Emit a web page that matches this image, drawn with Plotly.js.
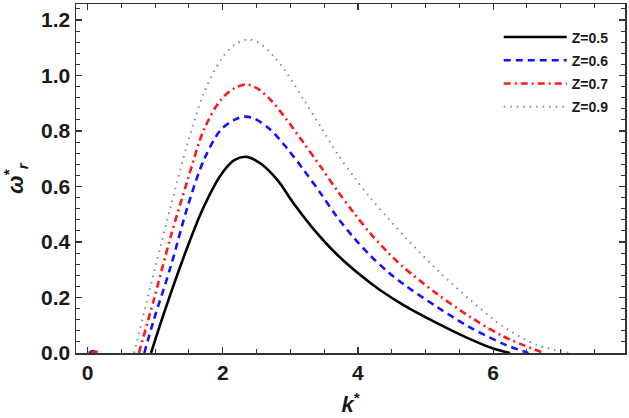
<!DOCTYPE html>
<html>
<head>
<meta charset="utf-8">
<script src="https://cdn.plot.ly/plotly-3.0.1.min.js"></script>
<style>html,body{margin:0;padding:0;background:#fff;}#chart{width:629px;height:418px;}</style>
</head>
<body>
<div id="chart"></div>
<script>
// Z = 0.5
var k05 = [0.94, 1.13, 1.48, 1.72, 1.97, 2.17, 2.35, 2.56, 2.81, 3.05, 3.35, 3.69, 4.04, 4.33, 4.68, 5.17, 5.66, 6.0, 6.25];
var w05 = [0, 0.143, 0.383, 0.527, 0.641, 0.695, 0.707, 0.683, 0.623, 0.539, 0.445, 0.355, 0.280, 0.226, 0.172, 0.108, 0.050, 0.016, 0];
// Z = 0.6
var k06 = [0.02, 0.08, 0.14, 0.5, 0.84, 0.98, 1.23, 1.48, 1.72, 1.97, 2.17, 2.32, 2.46, 2.71, 2.95, 3.2, 3.45, 3.69, 3.94, 4.18, 4.43, 4.68, 5.17, 5.66, 6.15, 6.52];
var w06 = [0, 0.007, 0, null, 0, 0.119, 0.311, 0.527, 0.695, 0.804, 0.840, 0.852, 0.846, 0.804, 0.738, 0.659, 0.575, 0.491, 0.415, 0.352, 0.295, 0.247, 0.166, 0.092, 0.033, 0];
// Z = 0.7
var k07 = [0.06, 0.12, 0.18, 0.5, 0.76, 0.98, 1.23, 1.48, 1.72, 1.97, 2.17, 2.35, 2.51, 2.71, 2.95, 3.2, 3.45, 3.69, 3.94, 4.18, 4.43, 4.68, 5.17, 5.66, 6.15, 6.75];
var w07 = [0, 0.005, 0, null, 0, 0.191, 0.419, 0.623, 0.804, 0.912, 0.954, 0.968, 0.954, 0.912, 0.840, 0.756, 0.671, 0.587, 0.505, 0.432, 0.366, 0.308, 0.213, 0.130, 0.060, 0];
// Z = 0.9
var k09 = [0.69, 0.98, 1.23, 1.48, 1.72, 1.97, 2.17, 2.38, 2.56, 2.76, 2.95, 3.2, 3.45, 3.69, 3.94, 4.18, 4.43, 4.68, 5.17, 5.66, 6.15, 6.65, 7.14];
var w09 = [0, 0.287, 0.527, 0.756, 0.936, 1.056, 1.110, 1.130, 1.114, 1.068, 1.008, 0.912, 0.815, 0.720, 0.635, 0.560, 0.490, 0.422, 0.300, 0.191, 0.095, 0.029, 0];

var labels = ['Z=0.5', 'Z=0.6', 'Z=0.7', 'Z=0.9'];
var xTicks = [0, 2, 4, 6];
var yTicks = [0, 0.2, 0.4, 0.6, 0.8, 1.0, 1.2];
var yTickText = ['0.0', '0.2', '0.4', '0.6', '0.8', '1.0', '1.2'];

var traces = [
  {x: k05, y: w05, name: labels[0], mode: 'lines', line: {color: '#000000', width: 2.6, shape: 'spline', smoothing: 1}},
  {x: k06, y: w06, name: labels[1], mode: 'lines', line: {color: '#1414ff', width: 2.6, dash: '7px,5px', shape: 'spline', smoothing: 0.9}},
  {x: k07, y: w07, name: labels[2], mode: 'lines', line: {color: '#ff1a1a', width: 2.6, dash: '7px,4px,2px,4px', shape: 'spline', smoothing: 0.9}},
  {x: k09, y: w09, name: labels[3], mode: 'lines', line: {color: '#8c8c8c', width: 2, dash: '1.5px,5px', shape: 'spline', smoothing: 0.9}}
];

var tickFont = {family: 'Liberation Sans, Arial, sans-serif', size: 21, color: '#1a1a1a', weight: 'bold'};

var layout = {
  width: 629, height: 418,
  margin: {l: 76, r: 4, t: 4, b: 65},
  paper_bgcolor: '#ffffff', plot_bgcolor: '#ffffff',
  showlegend: true,
  legend: {
    x: 0.77, y: 0.95, xanchor: 'left', yanchor: 'top',
    bgcolor: 'rgba(0,0,0,0)', borderwidth: 0,
    itemwidth: 63,
    font: {family: 'Liberation Sans, Arial, sans-serif', size: 14, color: '#1a1a1a', weight: 'bold'},
    tracegroupgap: 2
  },
  xaxis: {
    range: [-0.17, 7.95],
    tickvals: xTicks, ticktext: xTicks.map(String),
    ticks: 'inside', ticklen: 6, tickwidth: 1.2, tickcolor: '#333',
    minor: {dtick: 0.5, tick0: 0, ticks: 'inside', ticklen: 4, tickcolor: '#333', tickwidth: 1},
    showline: true, linecolor: '#333', linewidth: 1.5, mirror: 'allticks',
    showgrid: false, zeroline: false,
    tickfont: tickFont,
    title: {text: '<b><i>k</i><sup>*</sup></b>', font: {family: 'Liberation Sans, Arial, sans-serif', size: 22, color: '#1a1a1a'}, standoff: 14}
  },
  yaxis: {
    range: [0, 1.258],
    tickvals: yTicks, ticktext: yTickText,
    ticks: 'inside', ticklen: 6, tickwidth: 1.2, tickcolor: '#333',
    minor: {dtick: 0.04, tick0: 0, ticks: 'inside', ticklen: 4, tickcolor: '#333', tickwidth: 1},
    showline: true, linecolor: '#333', linewidth: 1.5, mirror: 'allticks',
    showgrid: false, zeroline: false,
    tickfont: tickFont,
    title: {text: '<b><i>ω</i><sup>*</sup><sub><i>r</i></sub></b>', font: {family: 'Liberation Sans, Arial, sans-serif', size: 22, color: '#1a1a1a'}, standoff: 14}
  }
};

traces.forEach(function (t, i) { t.legendgroup = 'g' + i; });

Plotly.newPlot('chart', traces, layout, {displayModeBar: false, staticPlot: true});
</script>
</body>
</html>
